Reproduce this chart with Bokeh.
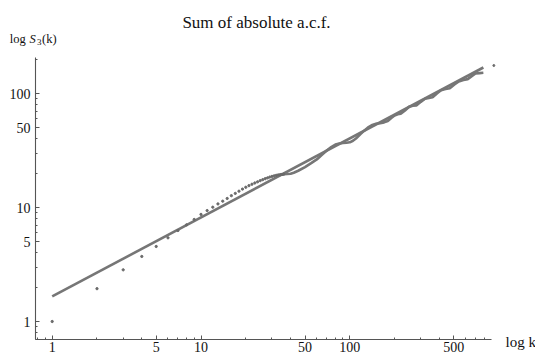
import numpy as np
from bokeh.plotting import figure
from bokeh.models import FixedTicker, Label, Range1d, NumeralTickFormatter
from bokeh.embed import file_html
from bokeh.resources import INLINE

# ---------------- data ----------------
title_text = "Sum of absolute a.c.f."
x_label_text = "log k"

x_ticks = [1, 5, 10, 50, 100, 500]
y_ticks = [1, 5, 10, 50, 100]
x_minor = [0.8, 0.9, 2, 3, 4, 6, 7, 8, 9, 20, 30, 40, 60, 70, 80, 90,
           200, 300, 400, 600, 700, 800]
y_minor = [0.7, 0.8, 0.9, 2, 3, 4, 6, 7, 8, 9, 20, 30, 40, 60, 70, 80, 90, 200]

# individual points S3(k), k = 1..36
k_points = list(range(1, 37))
s_points = [1.0, 1.94, 2.84, 3.72, 4.55, 5.42, 6.28, 7.05, 7.85, 8.7,
            9.4, 10.06, 10.75, 11.36, 12.0, 12.7, 13.3, 13.9, 14.5, 15.05,
            15.55, 16.0, 16.4, 16.8, 17.2, 17.55, 17.9, 18.2, 18.5, 18.75,
            18.95, 19.15, 19.3, 19.4, 19.5, 19.6]

# dense part of S3(k) (points merge into a wavy band)
k_dense = [34, 36, 40, 42, 45, 50, 55, 60, 65, 70, 75, 80, 85, 90, 95, 100,
           105, 110, 118, 125, 132, 140, 150, 160, 170, 180, 190, 200, 210,
           220, 235, 250, 265, 280, 300, 320, 340, 360, 385, 410, 440, 470,
           505, 540, 580, 620, 660, 700, 745, 790]
s_dense = [19.4, 19.6, 19.8, 20.2, 21.0, 22.6, 24.5, 26.4, 29.0, 31.6, 33.9,
           35.7, 36.4, 36.8, 37.0, 37.3, 38.5, 40.3, 44.0, 47.2, 50.2, 52.6,
           54.2, 55.0, 55.8, 57.3, 61.0, 64.2, 65.8, 66.5, 71.0, 76.4, 78.0,
           78.5, 84.5, 89.9, 91.5, 92.6, 100.0, 106.6, 109.5, 111.4, 120.0,
           127.7, 131.5, 133.7, 142.0, 149.7, 151.0, 152.1]

# last isolated point
k_last = [929]
s_last = [176]

# fitted power-law line
k_fit = [1, 790]
s_fit = [1.66, 169.0]

# ---------------- layout helpers (pixel -> data) ----------------
def xd(px):
    return 10 ** ((px - 51.7) / 148.8)

def yd(py):
    return 10 ** ((321.0 - py) / 114.0)

GRAY = "#767676"
AXIS = "#555555"
FONT = "Liberation Serif"
TXT = "#111111"

W, H = 535, 355
p = figure(width=W, height=H, x_axis_type="log", y_axis_type="log",
           x_range=Range1d(xd(0), xd(W)), y_range=Range1d(yd(H), yd(0)),
           output_backend="svg", toolbar_location=None,
           min_border_left=0, min_border_right=0,
           min_border_top=0, min_border_bottom=0)
p.outline_line_color = None
p.xgrid.visible = False
p.ygrid.visible = False
p.background_fill_color = "white"
p.border_fill_color = "white"

# axes cross at the bottom-left corner of the plotting area
p.xaxis[0].fixed_location = yd(339)
p.yaxis[0].fixed_location = xd(35)

for ax, ticks, minor in ((p.xaxis[0], x_ticks, x_minor), (p.yaxis[0], y_ticks, y_minor)):
    ax.ticker = FixedTicker(ticks=ticks, minor_ticks=minor)
    ax.formatter = NumeralTickFormatter(format="0")
    ax.axis_line_color = None
    ax.major_tick_line_color = AXIS
    ax.minor_tick_line_color = AXIS
    ax.major_tick_in = 4
    ax.major_tick_out = 0
    ax.minor_tick_in = 2
    ax.minor_tick_out = 0
    ax.major_label_text_font = FONT
    ax.major_label_text_font_size = "14px"
    ax.major_label_text_color = TXT

p.xaxis[0].major_label_standoff = 2
p.yaxis[0].major_label_standoff = 5

# axis lines, spanning the plotting area only
p.segment(x0=[xd(35), xd(35)], y0=[yd(339), yd(339)],
          x1=[xd(491), xd(35)], y1=[yd(339), yd(57)],
          line_color=AXIS, line_width=1.1)

# fitted line
p.line(k_fit, s_fit, line_color=GRAY, line_width=2.6)
# dense data band
p.line(k_dense, s_dense, line_color=GRAY, line_width=2.6)
# individual points
p.scatter(k_points, s_points, size=2.3, color="#6a6a6a", marker="circle")
p.scatter(k_last, s_last, size=2.0, color="#6a6a6a", marker="circle")

# texts
p.add_layout(Label(x=xd(256), y=yd(22), text=title_text, text_align="center",
                   text_baseline="alphabetic", text_font=FONT,
                   text_font_size="17px", text_color=TXT))
p.add_layout(Label(x=xd(505), y=yd(341), text=x_label_text, text_align="left",
                   text_baseline="alphabetic", text_font=FONT,
                   text_font_size="15px", text_color=TXT))
# y label: log S_3(k)
p.add_layout(Label(x=xd(9.3), y=yd(38.5), text="log", text_align="left",
                   text_baseline="alphabetic", text_font=FONT,
                   text_font_size="12.5px", text_color=TXT))
p.add_layout(Label(x=xd(29), y=yd(38.5), text="S", text_align="left",
                   text_baseline="alphabetic", text_font=FONT,
                   text_font_style="italic",
                   text_font_size="12.5px", text_color=TXT))
p.add_layout(Label(x=xd(36.5), y=yd(41), text="3", text_align="left",
                   text_baseline="alphabetic", text_font=FONT,
                   text_font_size="9px", text_color=TXT))
p.add_layout(Label(x=xd(41.5), y=yd(38.5), text="(k)", text_align="left",
                   text_baseline="alphabetic", text_font=FONT,
                   text_font_size="12.5px", text_color=TXT))

open("out.html", "w").write(file_html(p, INLINE))
